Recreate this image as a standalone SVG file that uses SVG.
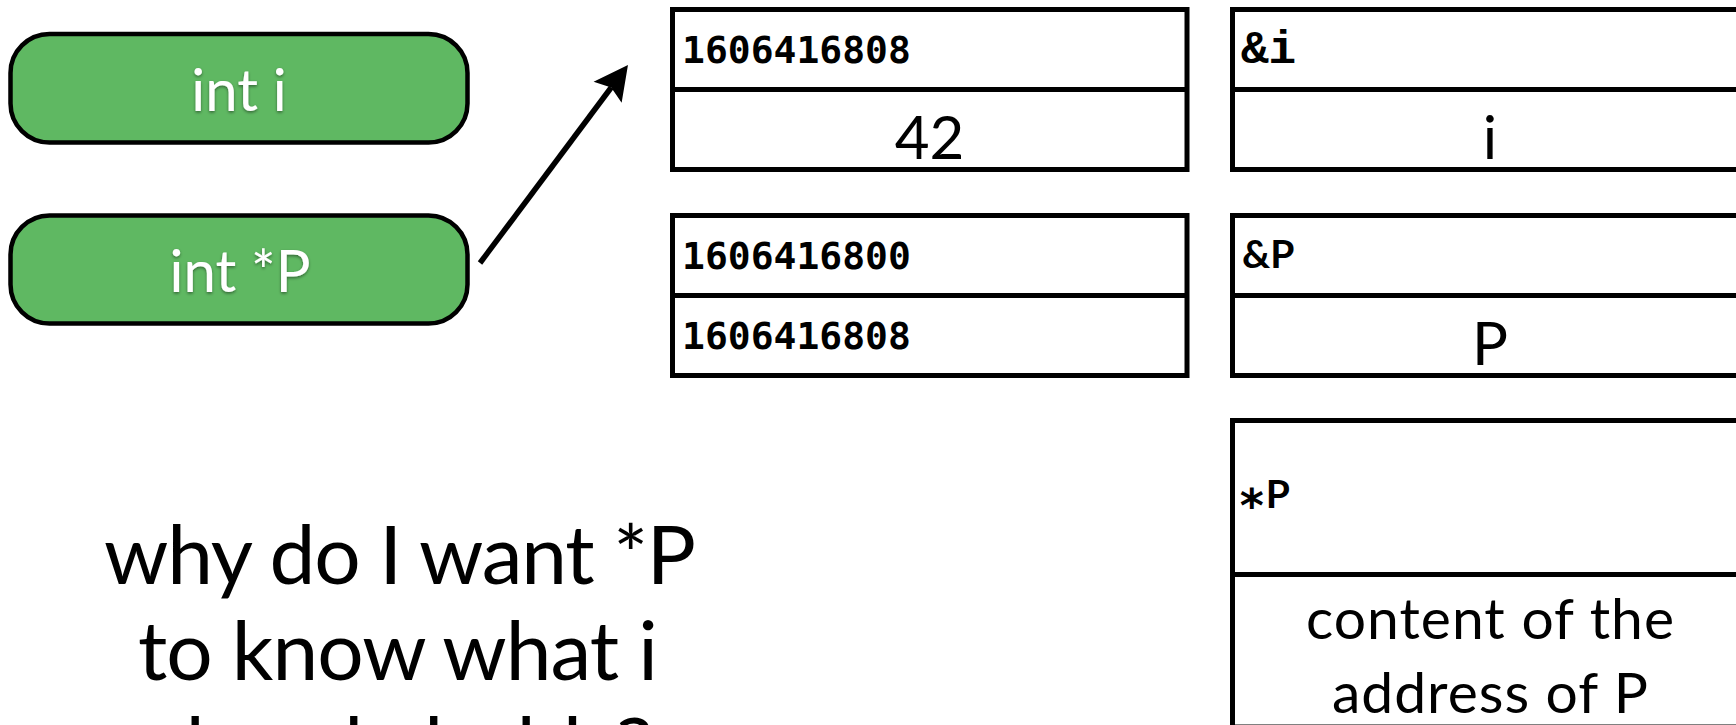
<svg xmlns="http://www.w3.org/2000/svg" width="1736" height="725" viewBox="0 0 1736 725">
  <defs>
    <!-- solid arrowhead with a shallow notch at the back -->
    <marker id="arrowhead" markerUnits="userSpaceOnUse" markerWidth="40" markerHeight="40" viewBox="0 -20 40 40" refX="6" refY="0" orient="auto">
      <path d="M0,-17.5 L34,0 L0,17.5 L6,0 Z" fill="#000"/>
    </marker>
    <filter id="label-shadow" x="-10%" y="-30%" width="120%" height="160%">
      <feDropShadow dx="0" dy="1.5" stdDeviation="1.5" flood-color="#000" flood-opacity="0.45"/>
    </filter>
  </defs>
  <style>
    .var rect { fill: #5fb862; stroke: #000; stroke-width: 4.5; }
    .var text { font-family: Lato, "Noto Sans", sans-serif; font-size: 58px; fill: #fff; text-anchor: middle; filter: url(#label-shadow); }
    .cell { fill: #fff; stroke: #000; stroke-width: 5; }
    .divider { stroke: #000; stroke-width: 5; }
    .addr { font-family: "DejaVu Sans Mono", monospace; font-weight: bold; font-size: 38px; fill: #000; }
    .ref-mono { font-family: "Liberation Mono", monospace; font-weight: bold; font-size: 46px; fill: #000; }
    .ref-sans { font-family: Lato, "Noto Sans", sans-serif; font-weight: bold; font-size: 39px; fill: #000; }
    .val { font-family: Lato, "Noto Sans", sans-serif; font-size: 60px; fill: #000; text-anchor: middle; }
    .note { font-family: Lato, "Noto Sans", sans-serif; font-size: 57px; fill: #000; text-anchor: middle; }
    .question { font-family: Lato, "Noto Sans", sans-serif; font-size: 82px; fill: #000; text-anchor: middle; }
    .connector { stroke: #000; stroke-width: 5.5; fill: none; }
  </style>

  <rect width="1736" height="725" fill="#fff"/>

  <!-- variable declarations -->
  <g id="var-int-i" class="var">
    <rect x="10.5" y="34" width="457" height="108.5" rx="39" ry="39"/>
    <text x="239" y="111">int i</text>
  </g>
  <g id="var-int-p" class="var">
    <rect x="10.5" y="215.5" width="457" height="108" rx="39" ry="39"/>
    <text x="240" y="292">int *P</text>
  </g>

  <!-- memory cells: address on top, content below -->
  <g id="mem-i">
    <rect class="cell" x="672.5" y="9.5" width="514.5" height="160"/>
    <line class="divider" x1="672.5" y1="89.5" x2="1187" y2="89.5"/>
    <text class="addr" x="682" y="63">1606416808</text>
    <text class="val" x="929.5" y="159">42</text>
  </g>
  <g id="mem-p">
    <rect class="cell" x="672.5" y="215.5" width="514.5" height="160"/>
    <line class="divider" x1="672.5" y1="295.5" x2="1187" y2="295.5"/>
    <text class="addr" x="682" y="269">1606416800</text>
    <text class="addr" x="682" y="349">1606416808</text>
  </g>
  <g id="sym-i">
    <rect class="cell" x="1232.5" y="9.5" width="515" height="160"/>
    <line class="divider" x1="1232.5" y1="89.5" x2="1747.5" y2="89.5"/>
    <text class="ref-mono" x="1241" y="63">&amp;i</text>
    <text class="val" x="1490" y="159">i</text>
  </g>
  <g id="sym-p">
    <rect class="cell" x="1232.5" y="215.5" width="515" height="160"/>
    <line class="divider" x1="1232.5" y1="295.5" x2="1747.5" y2="295.5"/>
    <text class="ref-sans" x="1242" y="268">&amp;P</text>
    <text class="val" x="1490" y="365">P</text>
  </g>
  <g id="sym-deref">
    <rect class="cell" x="1232.5" y="420.5" width="515" height="306.5"/>
    <line class="divider" x1="1232.5" y1="574.5" x2="1747.5" y2="574.5"/>
    <text class="ref-sans" x="1238" y="508"><tspan font-family="DejaVu Sans Mono, monospace" font-size="46" dy="14">*</tspan><tspan dy="-14">P</tspan></text>
    <text class="note" x="1490" y="639" textLength="368">content of the</text>
    <text class="note" x="1490" y="713" textLength="316">address of P</text>
  </g>

  <!-- question -->
  <g id="question">
    <text class="question" x="400" y="584" textLength="592">why do I want *P</text>
    <text class="question" x="398" y="680" textLength="520">to know what i</text>
    <text class="question" x="399" y="776">already holds?</text>
  </g>

  <!-- connectors -->
  <g id="connectors">
    <line class="connector" x1="480" y1="263" x2="611.2" y2="87.5" marker-end="url(#arrowhead)"/>
  </g>
</svg>
